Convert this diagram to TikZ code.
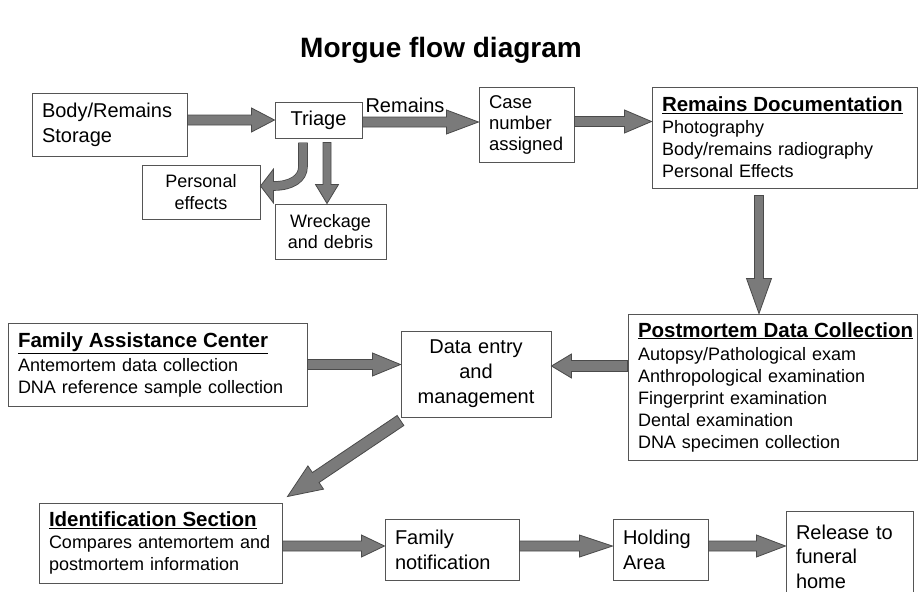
\documentclass[tikz,border=0pt]{standalone}
\usepackage{fontspec}
\setmainfont{Liberation Sans}
\usetikzlibrary{calc}
\definecolor{arrfill}{HTML}{7A7A7A}
\definecolor{arrline}{HTML}{4A4A4A}
\definecolor{boxline}{HTML}{555555}
\tikzset{
  box/.style={draw=boxline, line width=1pt, fill=white, inner xsep=10pt, inner ysep=2pt, anchor=center},
  leftbox/.style={box, align=left},
  midbox/.style={box, align=center},
  bigtxt/.style={font=\fontsize{20}{25}\selectfont},
  smalltxt/.style={font=\fontsize{18}{21.5}\selectfont},
  listtxt/.style={font=\fontsize{18}{22}\selectfont},
  blockarr/.style={fill=arrfill, draw=arrline, line width=0.8pt, line join=miter},
  shaftdark/.style={draw=arrline, line width=9.6pt},
  shaftlight/.style={draw=arrfill, line width=8pt},
}
\newcommand\hdr[1]{\underline{\fontsize{20.5}{24}\selectfont\bfseries #1}}
\newcommand\blockarrow[5]{%
  \coordinate (ba-s) at #1;
  \coordinate (ba-e) at #2;
  \coordinate (ba-h) at ($(ba-e)!#5!(ba-s)$);
  \draw[blockarr] ($(ba-s)!#3!90:(ba-e)$) -- ($(ba-h)!#3!-90:(ba-s)$) -- ($(ba-h)!#4!-90:(ba-s)$) -- (ba-e) -- ($(ba-h)!#4!90:(ba-s)$) -- ($(ba-h)!#3!90:(ba-s)$) -- ($(ba-s)!#3!-90:(ba-e)$) -- cycle;
}
\begin{document}
\begin{tikzpicture}[x=1pt,y=-1pt]
\useasboundingbox (0,0) rectangle (919,592);
\begin{scope}
\clip (0,0) rectangle (919,592);
\fill[white] (0,0) rectangle (919,592);

\node[font=\fontsize{28}{32}\selectfont\bfseries, anchor=base] (title) at (441,57) {Morgue flow diagram};

% boxes
\node[leftbox, bigtxt, text width=135pt, minimum height=63pt] (body) at (109.5,124.5) {Body/Remains\\Storage};
\node[midbox, bigtxt, text width=67pt, minimum height=36pt] (triage) at (318.5,120) {Triage};
\node[midbox, smalltxt, text width=98pt, minimum height=54pt] (personal) at (201,192) {Personal\\effects};
\node[midbox, smalltxt, text width=91pt, minimum height=55pt] (wreck) at (330.5,231.5) {Wreckage\\and debris};
\node[leftbox, font=\fontsize{18.5}{21}\selectfont, text width=75pt, minimum height=75pt] (case) at (526.5,124.5) {Case\\number\\assigned};
\node[leftbox, listtxt, text width=245pt, minimum height=101pt] (remdoc) at (784.5,137.5) {\hdr{Remains Documentation}\\Photography\\Body/remains radiography\\Personal Effects};
\node[leftbox, listtxt, text width=269pt, minimum height=146pt] (pm) at (772.5,387) {\hdr{Postmortem Data Collection}\\[1pt]Autopsy/Pathological exam\\Anthropological examination\\Fingerprint examination\\Dental examination\\DNA specimen collection};
\node[midbox, bigtxt, text width=130pt, minimum height=86pt] (data) at (476,374) {Data entry\\and\\management};
\node[leftbox, listtxt, text width=279pt, minimum height=83pt] (fac) at (157.5,364.5) {\hdr{Family Assistance Center}\\[2pt]Antemortem data collection\\DNA reference sample collection};
\node[leftbox, listtxt, text width=223pt, minimum height=80pt] (ident) at (160.5,543) {\hdr{Identification Section}\\Compares antemortem and\\postmortem information};
\node[leftbox, bigtxt, text width=114pt, minimum height=61pt] (family) at (452,549.5) {Family\\notification};
\node[leftbox, bigtxt, text width=75pt, minimum height=61pt] (holding) at (660.5,549.5) {Holding\\Area};
\node[leftbox, font=\fontsize{20}{24.5}\selectfont, text width=107pt, minimum height=91pt] (release) at (849.5,556.5) {Release to\\funeral\\home};

\node[font=\fontsize{20}{24}\selectfont, anchor=base] (remlabel) at (405,112) {Remains};

% straight block arrows
\blockarrow{(body.east |- triage.west)}{(triage.west)}{5pt}{12pt}{23pt}
\blockarrow{($(triage.east)+(0,2)$)}{($(case.west |- triage.east)+(0,2)$)}{5pt}{12pt}{32pt}
\blockarrow{($(case.east)+(0,-3)$)}{($(remdoc.west |- case.east)+(0,-3)$)}{5pt}{11.5pt}{27pt}
\blockarrow{($(remdoc.south)+(-25.5,7)$)}{($(pm.north)+(-13.5,0)$)}{4.5pt}{12.5pt}{35pt}
\blockarrow{($(pm.west)+(0,-21)$)}{($(data.east)+(0,-8)$)}{5.5pt}{12pt}{20pt}
\blockarrow{(fac.east)}{(data.west |- fac.east)}{5pt}{11.5pt}{28pt}
\blockarrow{($(data.south west)+(0,3)$)}{($(ident.north east)+(5,-6)$)}{6pt}{14pt}{34pt}
\blockarrow{($(ident.east)+(0,3)$)}{($(family.west)+(0,-3.5)$)}{5pt}{11pt}{23pt}
\blockarrow{($(family.east)+(0,-3.5)$)}{($(holding.west)+(0,-3.5)$)}{5pt}{11pt}{33pt}
\blockarrow{($(holding.east)+(0,-3.5)$)}{($(release.west)+(0,-10.5)$)}{5pt}{11pt}{29pt}

% wreckage arrow
\blockarrow{($(triage.south)+(8.5,4)$)}{($(wreck.north)+(-3.5,0)$)}{4pt}{11.5pt}{19pt}

% curved arrow to personal effects
\coordinate (cs) at ($(triage.south)+(-15.5,4)$);
\coordinate (ct) at ($(personal.east)+(0,-6)$);
\coordinate (cb) at ($(ct)+(13,0)$);
\draw[shaftdark] (cs) -- ($(cs)+(0,24)$) .. controls ($(cs)+(0,36)$) and ($(cb)+(18,0)$) .. (cb);
\draw[blockarr] (ct) -- ($(cb)+(0,-17)$) -- ($(cb)+(0,17)$) -- cycle;
\draw[shaftlight] (cs) -- ($(cs)+(0,24)$) .. controls ($(cs)+(0,36)$) and ($(cb)+(18,0)$) .. ($(cb)+(-1,0)$);
\end{scope}
\end{tikzpicture}
\end{document}
